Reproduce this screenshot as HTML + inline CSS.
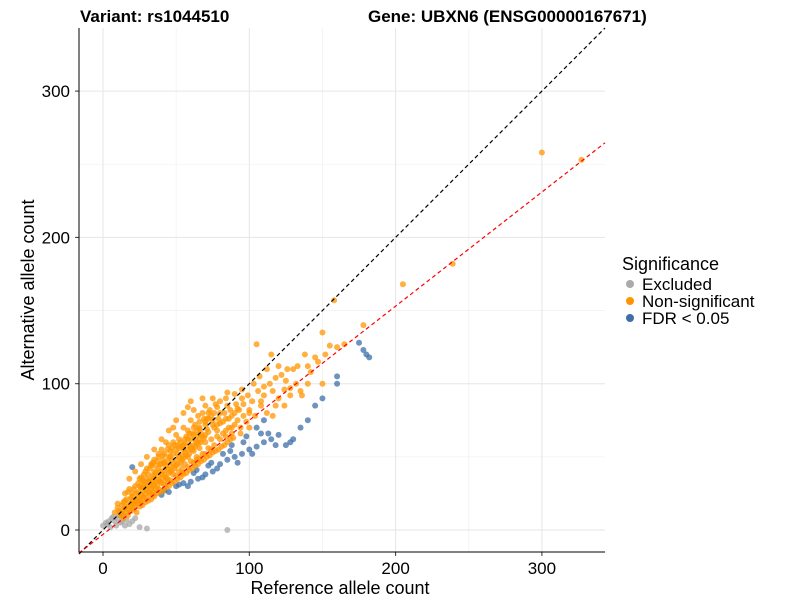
<!DOCTYPE html>
<html><head><meta charset="utf-8"><style>
body{margin:0;background:#fff;font-family:"Liberation Sans",Arial,sans-serif}
svg text{font-family:"Liberation Sans",Arial,sans-serif}
</style></head><body>
<svg id="chart" width="800" height="600">
<text x="80" y="22" font-size="17" font-weight="bold" fill="#000">Variant: rs1044510</text>
<text x="368" y="22" font-size="17" font-weight="bold" fill="#000">Gene: UBXN6 (ENSG00000167671)</text>
<g id="grid"></g><g id="lines0"></g><g id="pts"></g><g id="lines"></g><g id="axes"></g>
<text x="340" y="594" font-size="18" text-anchor="middle">Reference allele count</text>
<text transform="translate(34,290) rotate(-90)" font-size="18" text-anchor="middle">Alternative allele count</text>
<g>
<text x="622" y="270" font-size="18">Significance</text>
<circle cx="630" cy="284" r="4" fill="#aaaaaa"/>
<text x="642" y="290" font-size="17">Excluded</text>
<circle cx="630" cy="301" r="4" fill="#ff9500"/>
<text x="642" y="307" font-size="17">Non-significant</text>
<circle cx="630" cy="318" r="4" fill="#3e6fa8"/>
<text x="642" y="324" font-size="17">FDR &lt; 0.05</text>
</g>
</svg>
<script>
const xTicks=[0,100,200,300];
const yTicks=[0,100,200,300];
const xMinor=[50,150,250];
const yMinor=[50,150,250];
const regSlope=0.78, regIntercept=-3;
const grayPts=[[0,3],[2,5],[5,2],[8,6],[10,8],[3,4],[12,5],[15,3],[18,4],[20,6],[6,8],[9,3],[25,2],[30,1],[85,0],[14,10],[4,6],[22,8],[16,7],[11,10],[7,9],[13,6]];
const bluePts=[[20,43],[40,24],[45,26],[50,30],[55,32],[60,33],[65,35],[70,38],[75,40],[80,45],[85,48],[90,50],[95,52],[100,55],[105,57],[110,60],[115,62],[120,65],[125,58],[130,62],[135,70],[140,75],[145,85],[150,90],[160,100],[160,105],[175,128],[178,123],[180,120],[182,118],[105,70],[110,75],[98,64],[88,58],[72,44],[62,39],[52,31],[42,27],[58,30],[68,36],[78,42],[92,46],[102,52],[118,58],[128,60],[82,52],[113,66],[87,54],[96,60],[108,66],[74,46],[64,41]];
const orangePts=[[300,258],[327,253],[239,182],[205,168],[158,157],[178,140],[165,127],[160,125],[150,135],[147,115],[138,120],[105,127],[115,120],[120,112],[130,110],[125,102],[140,100],[150,100],[135,95],[128,92],[95,90],[90,93],[110,92],[118,85],[100,80],[108,85],[93,82],[85,85],[80,80],[75,75],[88,70],[78,68],[70,72],[65,65],[60,62],[55,58],[50,55],[45,50],[40,45],[35,40],[30,35],[25,30],[20,25],[15,20],[10,15],[8,12],
[12,10],[14,14],[16,12],[18,18],[20,15],[22,20],[24,18],[26,24],[28,22],[30,28],[32,25],[34,30],[36,28],[38,34],[40,32],[42,38],[44,35],[46,40],[48,38],[50,44],[52,40],[54,48],[56,45],[58,50],[60,47],[62,54],[64,50],[66,56],[68,52],[70,60],[72,56],[74,62],[76,58],[78,64],[80,62],[82,66],[84,64],[86,70],[88,66],[90,72],[92,75],[94,70],[96,78],[98,74],[100,82],[104,78],[108,88],[112,80],[116,95],[120,90],[124,85],[128,97],[132,100],[136,92],[142,108],[145,118],
[15,25],[18,28],[22,30],[25,35],[28,38],[30,42],[33,45],[35,48],[38,50],[40,55],[42,52],[45,58],[48,60],[50,65],[52,62],[55,70],[58,68],[60,75],[63,72],[65,78],[68,80],[70,85],[73,82],[75,90],[80,88],[85,94],[60,88],[55,80],[50,75],[45,68],[40,62],[35,55],[30,50],[26,45],[22,40],[18,35],
[12,12],[14,8],[17,10],[19,13],[21,14],[23,12],[25,16],[27,17],[29,19],[31,20],[33,21],[35,23],[37,25],[39,26],[41,27],[43,29],[45,30],[47,32],[49,33],[51,35],[53,36],[55,38],[57,39],[59,41],[61,42],[63,44],[65,45],[67,47],[69,48],[71,50],[73,51],[75,53],[77,54],[79,55],[81,57],[83,58],[85,60],[87,62],[89,63],
[20,20],[24,22],[28,27],[32,31],[36,33],[40,38],[44,42],[48,45],[52,50],[56,53],[60,56],[64,60],[68,64],[72,67],[76,70],[80,73],[84,76],[88,78],[92,83],[96,86],[102,88],[106,95],[110,98],[114,100],[118,104],[122,106],[126,110],[133,112],
[10,18],[13,17],[16,16],[19,22],[23,25],[27,29],[31,33],[35,36],[39,40],[43,44],[47,48],[51,52],[55,55],[59,58],[63,62],[67,66],[71,69],[75,72],[79,76],[83,80],[87,82],[91,86],[95,96],[99,92],[103,100],[107,105],[112,110],
[26,36],[31,38],[36,44],[41,48],[46,54],[51,58],[56,62],[61,66],[66,70],[71,76],[76,80],[62,82],[68,90],[78,84],[84,90],[58,84],[48,70],[43,60],[38,52],[33,44],[28,33],[34,26],[44,33],[54,42],[64,48],[74,55],[84,68],[94,66],[100,70],[116,78],[124,96],[140,112],[152,120],[155,126],
[11,13],[13,11],[15,15],[17,14],[19,17],[21,18],[23,21],[25,20],[27,23],[29,25],[31,26],[33,28],[35,31],[37,30],[39,33],[41,35],[43,36],[45,39],[47,41],[49,42],[51,45],[53,46],[55,49],[57,51],[59,52],[61,55],[63,57],[65,59],[67,60],[69,63],
[14,19],[16,21],[20,23],[24,26],[26,29],[28,31],[32,34],[34,37],[36,39],[38,42],[42,46],[44,47],[46,50],[48,52],[52,56],[54,57],[56,59],[58,62],[62,65],[64,68],[66,69],[70,74],[72,76],[74,78],[78,72],[82,74],[86,76],[90,80],
[17,26],[21,28],[24,32],[27,34],[29,40],[32,42],[34,46],[37,47],[39,45],[41,51],[44,55],[47,56],[49,58],[53,60],[57,64],[59,66],[62,70],[66,74],[69,76],[72,80],[77,86],
[22,17],[26,19],[30,22],[34,24],[38,28],[42,31],[46,34],[50,37],[54,39],[58,43],[62,46],[66,49],[70,52],[30,30],[34,34],[38,37],[42,41],[46,44],[50,48],[54,51],[58,55],[62,58],[66,62],[70,65]];
const NS='http://www.w3.org/2000/svg';
const X0=103,SX=1.463,Y0=530,SY=1.463,L=79,R=605,T=28,B=552;
function xs(v){return X0+v*SX}
function ys(v){return Y0-v*SY}
function el(t,a,p){const e=document.createElementNS(NS,t);for(const k in a)e.setAttribute(k,a[k]);document.getElementById(p).appendChild(e);return e}
xMinor.forEach(v=>{const e=el('line',{x1:xs(v),x2:xs(v),y1:T,y2:B,stroke:'#f2f2f2','stroke-width':0.8},'grid');

});
yMinor.forEach(v=>{const e=el('line',{x1:L,x2:R,y1:ys(v),y2:ys(v),stroke:'#f2f2f2','stroke-width':0.8},'grid');

});
xTicks.forEach(v=>{const e=el('line',{x1:xs(v),x2:xs(v),y1:T,y2:B,stroke:'#e6e6e6','stroke-width':1},'grid');


const t=el('text',{x:xs(v),y:574,'font-size':17,'text-anchor':'middle',fill:'#000'},'axes');t.textContent=v;


const k=el('line',{x1:xs(v),x2:xs(v),y1:B,y2:B+4,stroke:'#333'},'axes');

});
yTicks.forEach(v=>{const e=el('line',{x1:L,x2:R,y1:ys(v),y2:ys(v),stroke:'#e6e6e6','stroke-width':1},'grid');


const t=el('text',{x:70,y:ys(v)+6,'font-size':17,'text-anchor':'end',fill:'#000'},'axes');t.textContent=v;


const k=el('line',{x1:L-4,x2:L,y1:ys(v),y2:ys(v),stroke:'#333'},'axes');

});
function drawPts(arr,c,name){arr.forEach(p=>{const e=el('circle',{cx:xs(p[0]),cy:ys(p[1]),r:3,fill:c,'fill-opacity':0.75},'pts');

});}
drawPts(grayPts,'#a8a8a8','point-excluded');
drawPts(bluePts,'#3e6fa8','point-fdr');
drawPts(orangePts,'#ff9500','point-nonsignificant');
const xa=(L-X0)/SX, xb=(R-X0)/SX;
const d1=el('line',{x1:L,y1:ys(xa),x2:xs((Y0-T)/SY),y2:T,stroke:'#000','stroke-dasharray':'4,3','stroke-width':1.2},'lines');


const d2=el('line',{x1:L,y1:ys(regSlope*xa+regIntercept),x2:R,y2:ys(regSlope*xb+regIntercept),stroke:'#ff0000','stroke-dasharray':'4,3','stroke-width':1.2},'lines');


const ax=el('path',{d:`M${L},${T}V${B}H${R}`,fill:'none',stroke:'#000','stroke-width':1},'axes');


</script>
</body></html>
